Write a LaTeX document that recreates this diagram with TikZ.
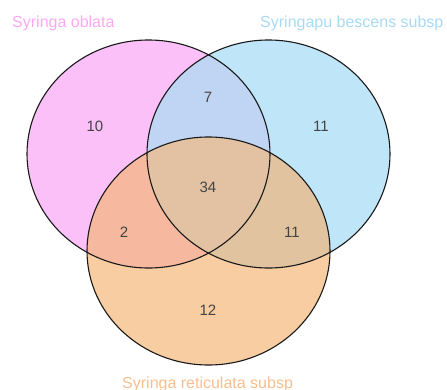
\documentclass[tikz,border=0pt]{standalone}
\usepackage{fontspec}
\setmainfont{Liberation Sans}
\definecolor{cpink}{HTML}{FBC0F8}
\definecolor{cblue}{HTML}{BFE5F8}
\definecolor{corange}{HTML}{F7CDA1}
\definecolor{cpb}{HTML}{C0D4F4}
\definecolor{cpo}{HTML}{F6B9A0}
\definecolor{cbo}{HTML}{E1C3A0}
\definecolor{cpbo}{HTML}{E2C2A2}
\definecolor{numcol}{HTML}{444444}
\definecolor{lpink}{HTML}{FBA8F3}
\definecolor{lblue}{HTML}{A8DAF4}
\definecolor{lorange}{HTML}{F8BE8E}
\begin{document}
\begin{tikzpicture}[x=1pt,y=-1pt,
  num/.style={inner sep=0pt,text=numcol,font=\fontsize{15}{15}\selectfont},
  setlabel/.style={inner sep=0pt,anchor=base west,font=\fontsize{16}{16}\selectfont},
  outline/.style={draw=black!90,line width=1.1pt}]
\useasboundingbox (0,0) rectangle (447,389);
\begin{scope}
\clip (0,0) rectangle (447,389);
\def\PA{(148.5,154) ellipse [x radius=121.5, y radius=114]}
\def\PB{(268.5,154) ellipse [x radius=121.5, y radius=114]}
\def\PC{(208.5,251) ellipse [x radius=121.5, y radius=114]}
\fill[cpink] \PA;
\fill[cblue] \PB;
\fill[corange] \PC;
\begin{scope}\clip \PA; \fill[cpb] \PB; \end{scope}
\begin{scope}\clip \PA; \fill[cpo] \PC; \end{scope}
\begin{scope}\clip \PB; \fill[cbo] \PC; \end{scope}
\begin{scope}\clip \PA; \clip \PB; \fill[cpbo] \PC; \end{scope}
\draw[outline] \PA;
\draw[outline] \PB;
\draw[outline] \PC;
\node[num] (n10) at (95,126) {10};
\node[num] (n7) at (208,97) {7};
\node[num] (n11a) at (321,126) {11};
\node[num] (n34) at (208,187) {34};
\node[num] (n2) at (124,232) {2};
\node[num] (n11b) at (292,232) {11};
\node[num] (n12) at (208,310) {12};
\node[setlabel,text=lpink] (la) at (12,27) {Syringa oblata};
\node[setlabel,text=lblue] (lb) at (260,27) {Syringapu bescens subsp};
\node[setlabel,text=lorange] (lc) at (122,388.5) {Syringa reticulata subsp};
\end{scope}
\end{tikzpicture}
\end{document}
